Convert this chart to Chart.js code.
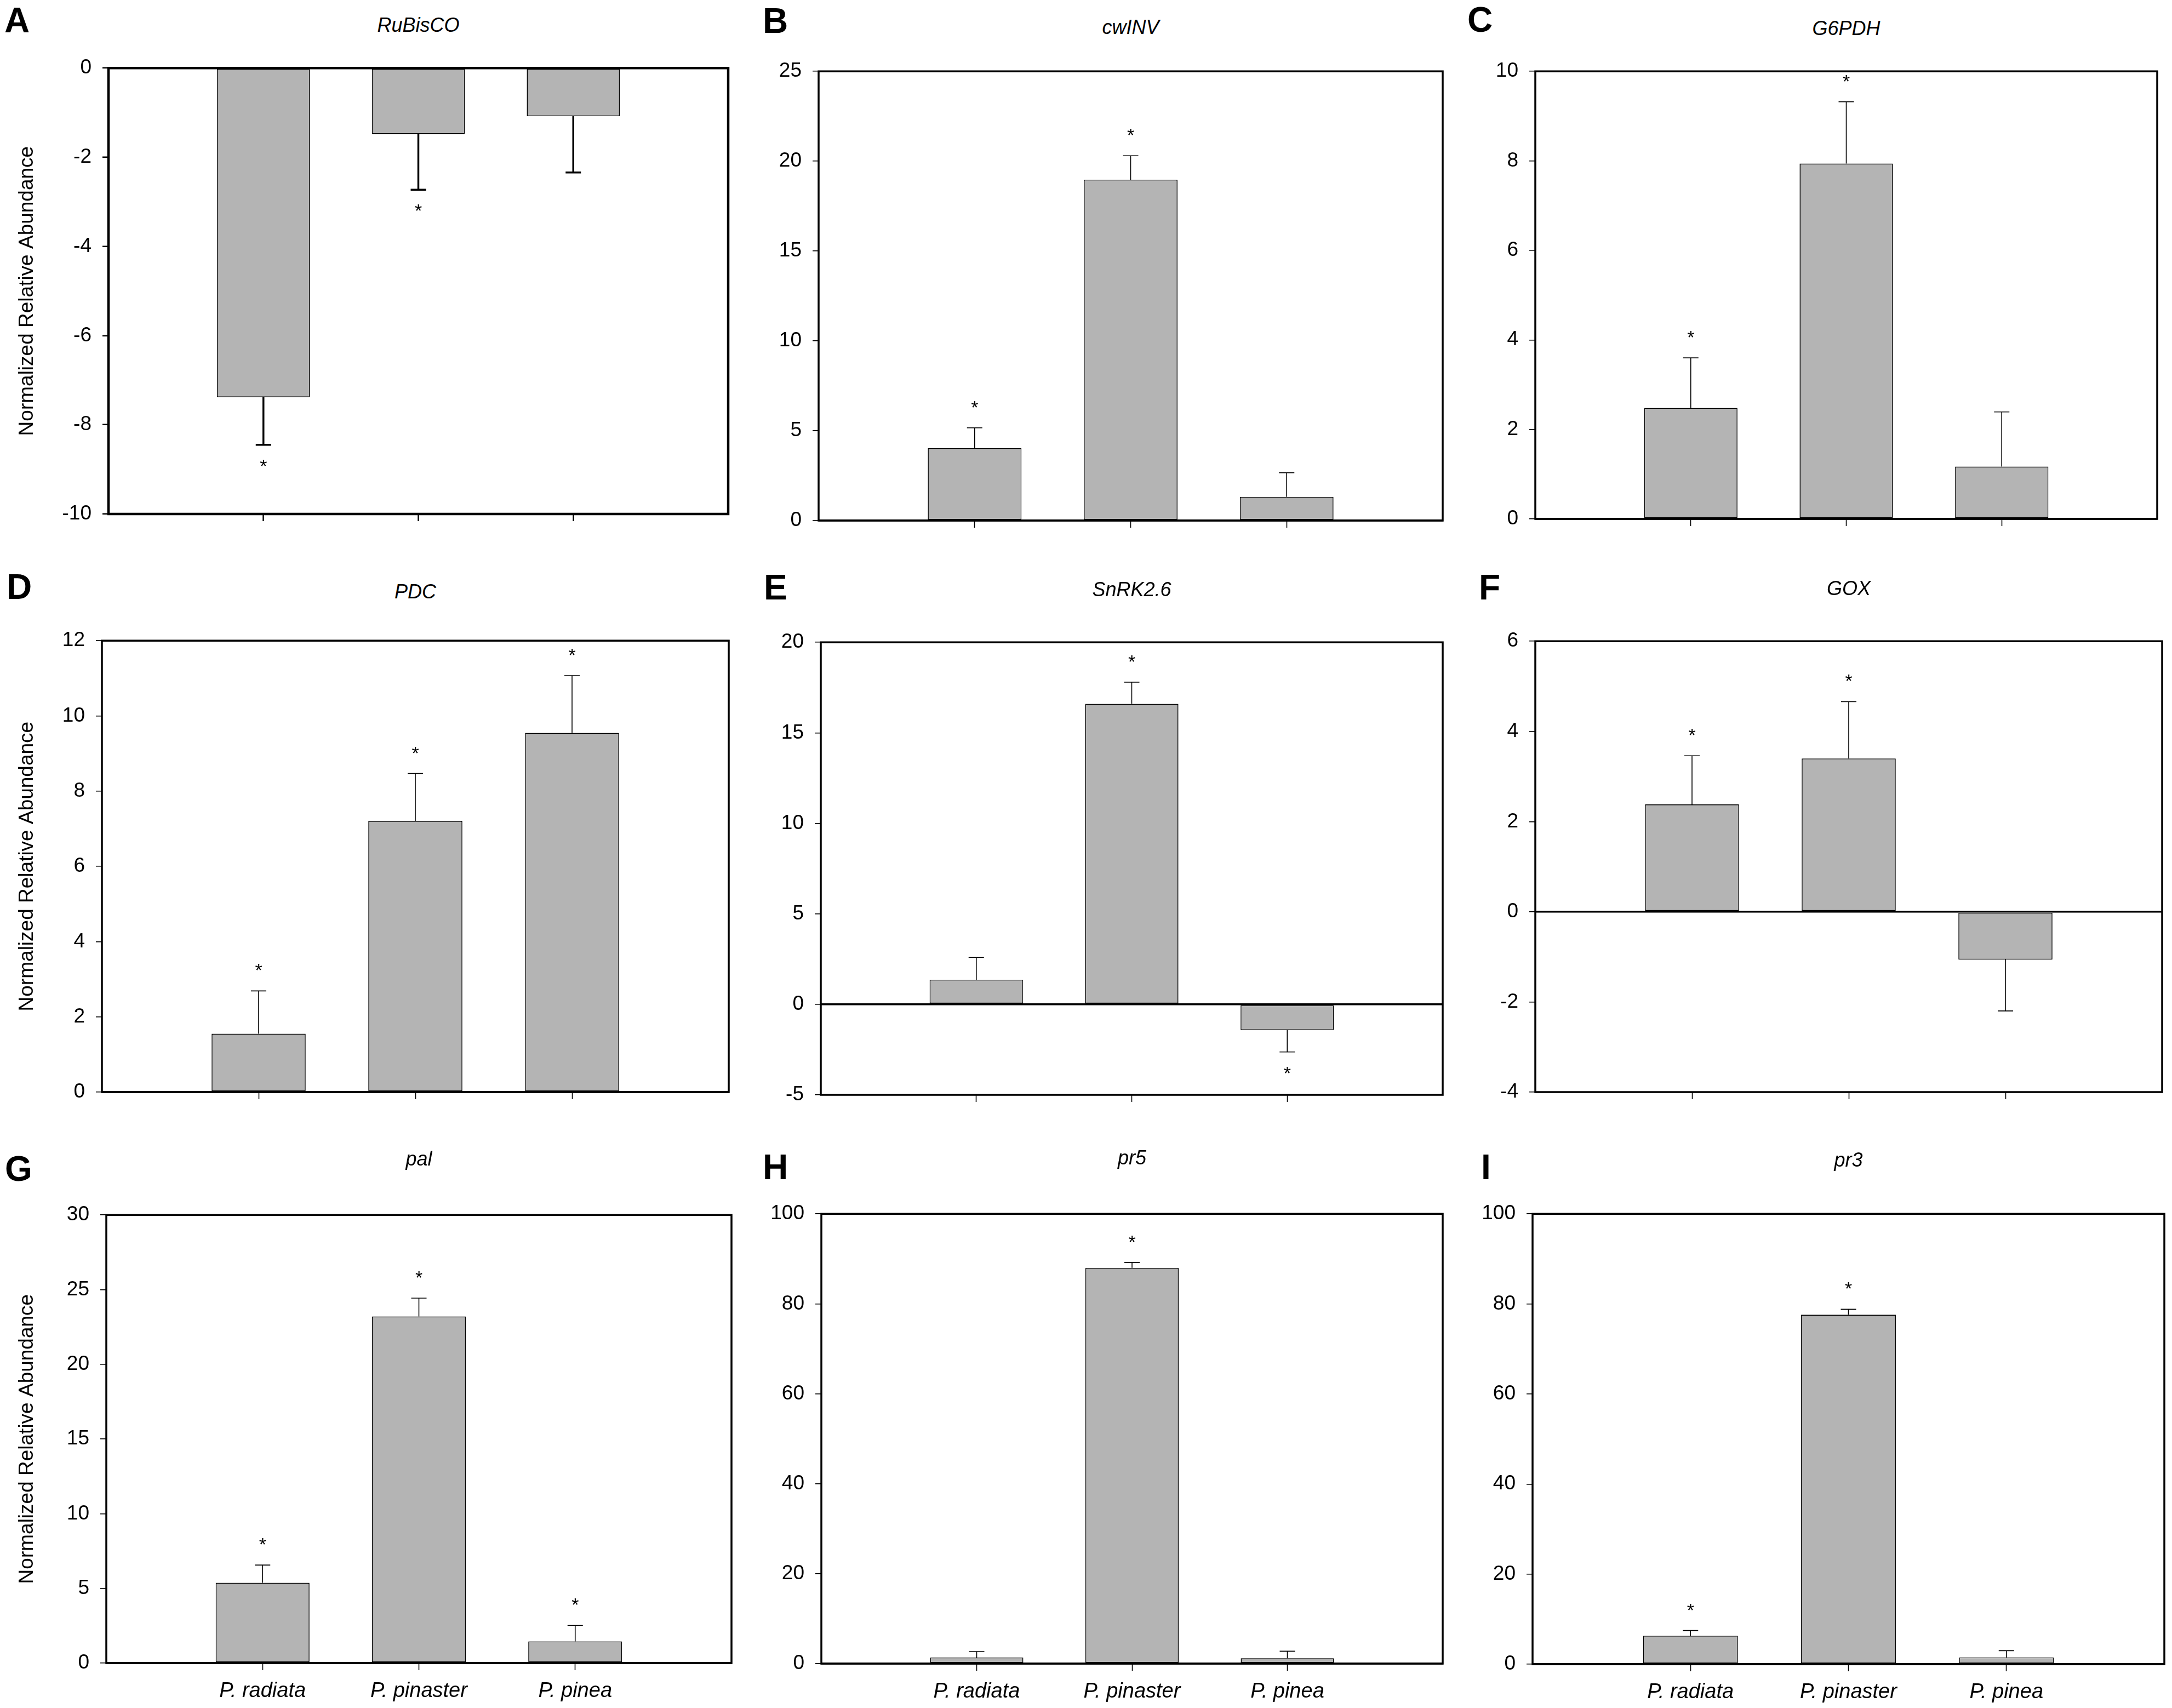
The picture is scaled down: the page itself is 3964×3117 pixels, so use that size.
<!DOCTYPE html>
<html>
<head>
<meta charset="utf-8">
<script src="https://cdn.jsdelivr.net/npm/chart.js@4.4.0/dist/chart.umd.min.js"></script>
<style>
  body { margin: 0; background: #fff; width: 3964px; height: 3117px; position: relative; overflow: hidden; }
  canvas { position: absolute; }
  .letter { position: absolute; font-family: 'Liberation Sans', Arial, sans-serif; font-weight: bold; font-size: 64px; line-height: 1; }
  .gene { position: absolute; font-family: 'Liberation Sans', Arial, sans-serif; font-style: italic; font-size: 36px; line-height: 1; transform: translate(-50%, -50%); white-space: nowrap; }
</style>
</head>
<body>
<script>
// species on the x axis
var species = ['P. radiata', 'P. pinaster', 'P. pinea'];
var genes = ['RuBisCO', 'cwINV', 'G6PDH', 'PDC', 'SnRK2.6', 'GOX', 'pal', 'pr5', 'pr3'];
var letters = ['A', 'B', 'C', 'D', 'E', 'F', 'G', 'H', 'I'];

// mean, standard error and significance (*) per gene
var rubiscoMean = [-7.38, -1.48, -1.08];
var rubiscoErr  = [1.07, 1.25, 1.26];
var rubiscoSig  = [1, 1, 0];
var cwinvMean = [4.03, 18.97, 1.32];
var cwinvErr  = [1.13, 1.33, 1.34];
var cwinvSig  = [1, 1, 0];
var g6pdhMean = [2.48, 7.94, 1.17];
var g6pdhErr  = [1.12, 1.38, 1.22];
var g6pdhSig  = [1, 1, 0];
var pdcMean = [1.55, 7.21, 9.55];
var pdcErr  = [1.14, 1.26, 1.52];
var pdcSig  = [1, 1, 1];
var snrkMean = [1.36, 16.6, -1.42];
var snrkErr  = [1.23, 1.2, 1.21];
var snrkSig  = [0, 1, 1];
var goxMean = [2.38, 3.40, -1.06];
var goxErr  = [1.08, 1.26, 1.14];
var goxSig  = [1, 1, 0];
var palMean = [5.37, 23.2, 1.45];
var palErr  = [1.19, 1.23, 1.07];
var palSig  = [1, 1, 1];
var pr5Mean = [1.34, 88.0, 1.18];
var pr5Err  = [1.34, 1.2, 1.58];
var pr5Sig  = [0, 1, 0];
var pr3Mean = [6.3, 77.6, 1.5];
var pr3Err  = [1.17, 1.2, 1.5];
var pr3Sig  = [1, 1, 0];

// y axis ranges
var yMin  = [-10, 0, 0, 0, -5, -4, 0, 0, 0];
var yMax  = [0, 25, 10, 12, 20, 6, 30, 100, 100];
var yStep = [2, 5, 2, 2, 5, 2, 5, 20, 20];

var means = [rubiscoMean, cwinvMean, g6pdhMean, pdcMean, snrkMean, goxMean, palMean, pr5Mean, pr3Mean];
var errs  = [rubiscoErr, cwinvErr, g6pdhErr, pdcErr, snrkErr, goxErr, palErr, pr5Err, pr3Err];
var sigs  = [rubiscoSig, cwinvSig, g6pdhSig, pdcSig, snrkSig, goxSig, palSig, pr5Sig, pr3Sig];

// layout of each plot box in page pixels
var plotLeft   = [198, 1494, 2802, 186, 1498, 2802, 194, 1499, 2797];
var plotRight  = [1329, 2633, 3937, 1330, 2633, 3946, 1335, 2633, 3950];
var plotTop    = [122, 128, 128, 1167, 1170, 1168, 2215, 2213, 2213];
var plotBottom = [938, 950, 947, 1993, 1998, 1993, 3035, 3036, 3037];
var letterPos  = [[8, 5], [1392, 6], [2678, 4], [12, 1039], [1394, 1040], [2699, 1040], [9, 2101], [1392, 2098], [2703, 2098]];
var titleY     = [46, 50, 52, 1080, 1076, 1074, 2115, 2113, 2117];

Chart.defaults.font.family = "'Liberation Sans', Arial, sans-serif";
Chart.defaults.color = '#000';

function makeDecor(idx, thick) {
  return {
    id: 'decor' + idx,
    afterDatasetsDraw: function(chart) {
      var ctx = chart.ctx;
      var y = chart.scales.y;
      var meta = chart.getDatasetMeta(0);
      ctx.save();
      ctx.strokeStyle = '#000';
      ctx.fillStyle = '#000';
      ctx.lineWidth = thick ? 3.5 : 1.6;
      ctx.font = "34px 'Liberation Sans', Arial, sans-serif";
      ctx.textAlign = 'center';
      ctx.textBaseline = 'alphabetic';
      means[idx].forEach(function(m, i) {
        var bar = meta.data[i + 1];
        var end = m < 0 ? m - errs[idx][i] : m + errs[idx][i];
        var y0 = y.getPixelForValue(m);
        var y1 = y.getPixelForValue(end);
        ctx.beginPath();
        ctx.moveTo(bar.x, y0);
        ctx.lineTo(bar.x, y1);
        ctx.moveTo(bar.x - 14, y1);
        ctx.lineTo(bar.x + 14, y1);
        ctx.stroke();
        if (sigs[idx][i]) {
          var ty = m < 0 ? y1 + 50 : y1 - 26;
          ctx.fillText('*', bar.x, ty);
        }
      });
      var a = chart.chartArea;
      ctx.lineWidth = thick ? 4.5 : 3.5;
      ctx.strokeRect(a.left, a.top, a.right - a.left, a.bottom - a.top);
      ctx.restore();
    }
  };
}

var padTop = 40, padRight = 20, xAxisH = 110;

for (var k = 0; k < 9; k++) {
  (function(k) {
    var col = k % 3, row = Math.floor(k / 3);
    var canvasLeft = col === 0 ? 0 : plotLeft[k] - 160;
    var yW = plotLeft[k] - canvasLeft;
    var w = yW + (plotRight[k] - plotLeft[k]) + padRight;
    var h = padTop + (plotBottom[k] - plotTop[k]) + xAxisH;
    var cv = document.createElement('canvas');
    cv.width = w; cv.height = h;
    cv.style.width = w + 'px'; cv.style.height = h + 'px';
    cv.style.left = canvasLeft + 'px';
    cv.style.top = (plotTop[k] - padTop) + 'px';
    document.body.appendChild(cv);

    var lt = document.createElement('div');
    lt.className = 'letter';
    lt.textContent = letters[k];
    lt.style.left = letterPos[k][0] + 'px';
    lt.style.top = letterPos[k][1] + 'px';
    document.body.appendChild(lt);

    var gt = document.createElement('div');
    gt.className = 'gene';
    gt.textContent = genes[k];
    gt.style.left = ((plotLeft[k] + plotRight[k]) / 2) + 'px';
    gt.style.top = titleY[k] + 'px';
    document.body.appendChild(gt);

    var thick = k === 0;
    new Chart(cv, {
      type: 'bar',
      data: {
        labels: [''].concat(species, ['']),
        datasets: [{
          data: [null].concat(means[k], [null]),
          backgroundColor: '#b4b4b4',
          borderColor: '#000',
          borderWidth: 1.6,
          borderSkipped: false,
          barPercentage: 0.6,
          categoryPercentage: 1
        }]
      },
      options: {
        responsive: false,
        animation: false,
        devicePixelRatio: 1,
        layout: { padding: { top: padTop, right: padRight, left: 0, bottom: 0 } },
        plugins: { legend: { display: false }, tooltip: { enabled: false } },
        scales: {
          x: {
            offset: false,
            border: { display: false },
            grid: {
              offset: false,
              drawOnChartArea: false,
              tickLength: 13,
              tickWidth: thick ? 2.5 : 1.6,
              tickColor: function(c) { return (c.index === 0 || c.index === 4) ? 'rgba(0,0,0,0)' : '#000'; }
            },
            ticks: {
              display: row === 2,
              autoSkip: false,
              maxRotation: 0,
              padding: 16,
              font: { size: 38, style: 'italic' }
            },
            afterFit: function(s) { s.height = xAxisH; }
          },
          y: {
            min: yMin[k],
            max: yMax[k],
            border: { display: false },
            grid: {
              drawOnChartArea: true,
              color: function(c) { return c.tick && c.tick.value === 0 ? '#000' : 'rgba(0,0,0,0)'; },
              lineWidth: 3.5,
              tickLength: 11,
              tickWidth: thick ? 2.5 : 1.6,
              tickColor: '#000'
            },
            ticks: { stepSize: yStep[k], padding: 20, font: { size: 37 } },
            title: {
              display: col === 0,
              text: 'Normalized Relative Abundance',
              font: { size: 37 },
              padding: { top: 28, bottom: 0 }
            },
            afterFit: function(s) { s.width = yW; }
          }
        }
      },
      plugins: [makeDecor(k, thick)]
    });
  })(k);
}
</script>
</body>
</html>
